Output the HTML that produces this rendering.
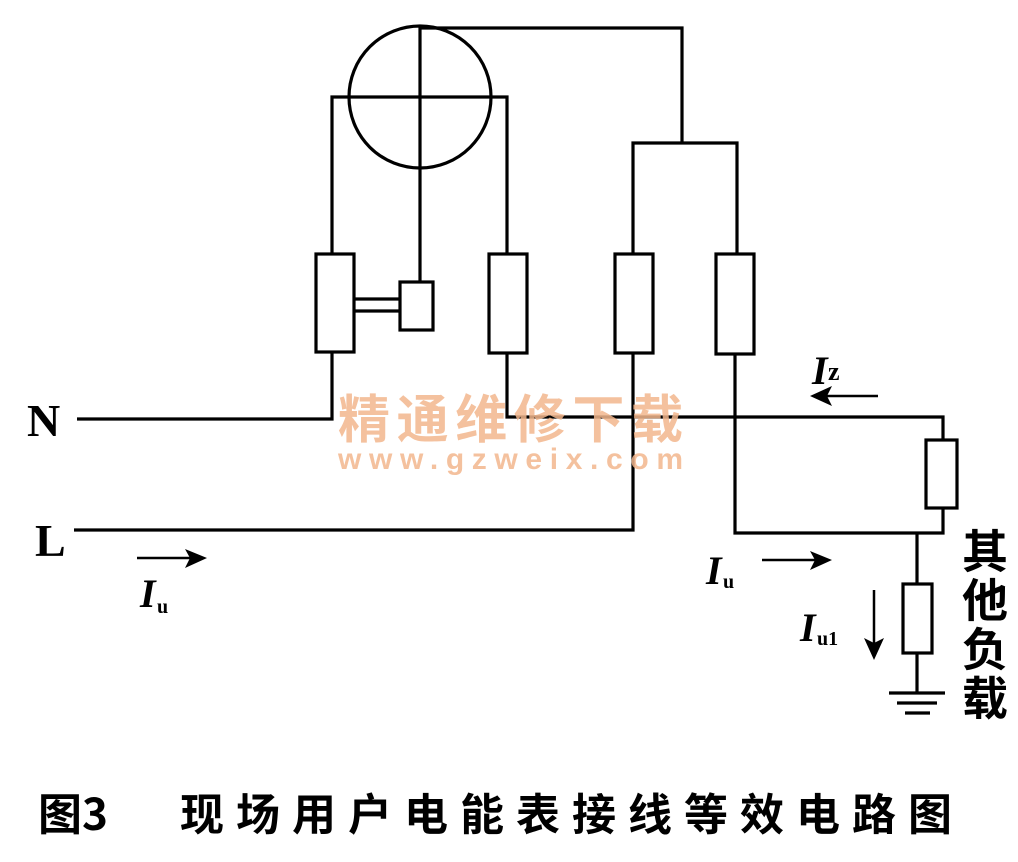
<!DOCTYPE html>
<html><head><meta charset="utf-8"><style>
html,body{margin:0;padding:0;background:#fff;}
svg{display:block;}
</style></head><body>
<svg width="1018" height="862" viewBox="0 0 1018 862" xmlns="http://www.w3.org/2000/svg">
<g fill="none" stroke="#000" stroke-width="3.2">
<circle cx="420" cy="97" r="71"/>
<line x1="420" y1="26" x2="420" y2="282"/>
<polyline points="420,28 682,28 682,143"/>
<polyline points="633,255 633,143 737,143 737,255"/>
<polyline points="332,255 332,97 507,97 507,255"/>
<rect x="316" y="254" width="38" height="98"/>
<rect x="400" y="282" width="33" height="48"/>
<line x1="354" y1="299" x2="400" y2="299"/>
<line x1="354" y1="311" x2="400" y2="311"/>
<rect x="489" y="254" width="38" height="99"/>
<rect x="615" y="254" width="38" height="99"/>
<rect x="716" y="254" width="38" height="100"/>
<polyline points="77,419 332,419 332,352"/>
<polyline points="507,353 507,417 943,417 943,440"/>
<rect x="926" y="440" width="31" height="68"/>
<polyline points="943,508 943,533 735,533 735,354"/>
<polyline points="74,530 633,530 633,353"/>
<line x1="917" y1="533" x2="917" y2="584"/>
<rect x="903" y="584" width="29" height="69"/>
<line x1="917" y1="653" x2="917" y2="693"/>
<line x1="889" y1="693" x2="945" y2="693"/>
<line x1="897" y1="703" x2="937" y2="703"/>
<line x1="905" y1="713" x2="930" y2="713"/>
<line x1="137" y1="558" x2="200" y2="558" stroke-width="2.5"/>
<line x1="762" y1="560" x2="825" y2="560" stroke-width="2.5"/>
<line x1="878" y1="396" x2="818" y2="396" stroke-width="2.5"/>
<line x1="874" y1="590" x2="874" y2="652" stroke-width="2.5"/>
</g>
<g fill="#000">
<polygon points="207,558 185,549 190,558 185,568"/>
<polygon points="832,560 810,551 815,560 810,570"/>
<polygon points="810,396 832,386 827,396 832,406"/>
<polygon points="874,660 864,638 874,643 884,638"/>
</g>
<g font-family="Liberation Serif, serif" font-weight="bold" fill="#000">
<text x="27" y="436" font-size="46">N</text>
<text x="35" y="556" font-size="46">L</text>
<text x="140" y="607" font-size="40" font-style="italic">I</text><text x="157" y="613" font-size="20">u</text>
<text x="706" y="584" font-size="40" font-style="italic">I</text><text x="723" y="588" font-size="20">u</text>
<text x="800" y="641" font-size="40" font-style="italic">I</text><text x="817" y="645" font-size="20">u1</text>
<text x="812" y="384" font-size="40" font-style="italic">I</text><text x="828" y="380" font-size="26">z</text>
</g>
<g font-family="Liberation Sans, 'Noto Sans CJK SC', sans-serif" font-size="46" font-weight="bold" fill="#000">
<text x="962" y="568">其</text>
<text x="962" y="617">他</text>
<text x="962" y="666">负</text>
<text x="962" y="715">载</text>
</g>
<text x="338" y="438" font-family="'Noto Sans CJK SC', sans-serif" font-weight="bold" font-size="52" fill="#f3b78e" opacity="0.85" textLength="345">精通维修下载</text>
<text x="338" y="469" font-family="Liberation Sans, sans-serif" font-weight="bold" font-size="30" fill="#f3b78e" opacity="0.85" textLength="345">www.gzweix.com</text>
<text x="38" y="830" font-family="'Noto Sans CJK SC', sans-serif" font-weight="bold" font-size="44" fill="#000">图3</text>
<text x="180" y="830" font-family="'Noto Sans CJK SC', sans-serif" font-weight="bold" font-size="44" fill="#000" textLength="772">现场用户电能表接线等效电路图</text>
</svg>
</body></html>
